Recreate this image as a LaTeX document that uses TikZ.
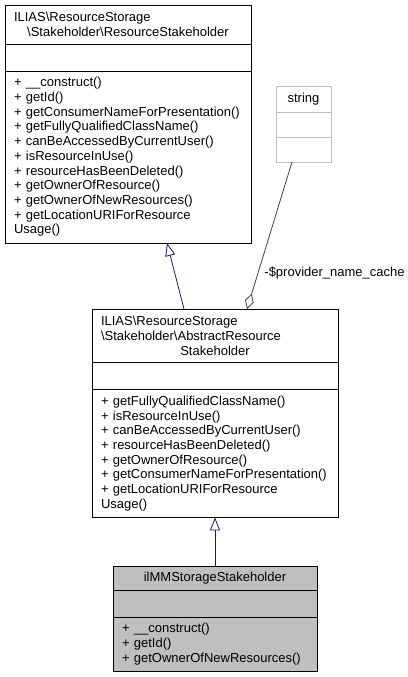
\documentclass[tikz,border=0pt]{standalone}
\usepackage{fontspec}
\setmainfont{Liberation Sans}
\usepackage{xcolor}
\usetikzlibrary{positioning}
\usetikzlibrary{arrows.meta}
\usetikzlibrary{math}

\definecolor{edgeblue}{RGB}{25,25,112}
\definecolor{edgegray}{RGB}{64,64,64}
\definecolor{boxgray}{RGB}{191,191,191}

\newcommand{\midline}[1]{\makebox[\hsize][c]{#1}}

\tikzset{
  compart/.style={draw, line width=0.8pt, inner xsep=9pt, inner ysep=0pt,
    outer sep=0pt, align=left,
    font=\fontsize{13}{14.7}\selectfont},
  widebox/.style={text width=228pt},
  leafbox/.style={text width=186pt},
  inherit/.style={draw=edgeblue, line width=0.8pt,
    -{Triangle[open, length=13pt, width=10pt]}},
  aggr/.style={draw=edgegray, line width=0.8pt,
    -{Diamond[open, length=16pt, width=9pt]}},
  edgelabel/.style={font=\fontsize{13}{14.7}\selectfont, inner sep=0pt},
}

\begin{document}
\begin{tikzpicture}[x=1pt,y=-1pt]

  \tikzmath{
    \emptyh = 27;   % height of the empty attribute compartments
    \lineh  = 14.7; % distance between two text lines
  }

  \useasboundingbox (0,0) rectangle (407,677);

  % interface ResourceStakeholder
  \node[compart, widebox, minimum height=39pt, anchor=north west] (rsHead) at (5,5)
  {ILIAS\textbackslash ResourceStorage\\
   \midline{\textbackslash Stakeholder\textbackslash ResourceStakeholder}};
  \node[compart, widebox, minimum height=\emptyh, below=0pt of rsHead] (rsAttr) {};
  \node[compart, widebox, minimum height=172pt, below=0pt of rsAttr] (rsOps)
  {+ \_\_construct()\\
   + getId()\\
   + getConsumerNameForPresentation()\\
   + getFullyQualifiedClassName()\\
   + canBeAccessedByCurrentUser()\\
   + isResourceInUse()\\
   + resourceHasBeenDeleted()\\
   + getOwnerOfResource()\\
   + getOwnerOfNewResources()\\
   + getLocationURIForResource\\
   Usage()};

  % class string
  \node[compart, draw=boxgray, text width=37pt, align=center, minimum height=26pt,
        anchor=north west] (strHead) at (276,86) {string};
  \node[compart, draw=boxgray, text width=37pt, minimum height=25pt,
        below=0pt of strHead] (strAttr) {};
  \node[compart, draw=boxgray, text width=37pt, minimum height=25pt,
        below=0pt of strAttr] (strOps) {};

  % abstract class AbstractResourceStakeholder
  \node[compart, widebox, minimum height=53.4pt, anchor=north west] (absHead) at (92,309)
  {ILIAS\textbackslash ResourceStorage\\
   \textbackslash Stakeholder\textbackslash AbstractResource\\
   \midline{Stakeholder}};
  \node[compart, widebox, minimum height=\emptyh, below=0pt of absHead] (absAttr) {};
  \node[compart, widebox, minimum height=128pt, below=0pt of absAttr] (absOps)
  {+ getFullyQualifiedClassName()\\
   + isResourceInUse()\\
   + canBeAccessedByCurrentUser()\\
   + resourceHasBeenDeleted()\\
   + getOwnerOfResource()\\
   + getConsumerNameForPresentation()\\
   + getLocationURIForResource\\
   Usage()};

  % class ilMMStorageStakeholder
  \node[compart, leafbox, fill=boxgray, minimum height=24pt, anchor=north west] (imHead) at (113,566)
  {\midline{ilMMStorageStakeholder}};
  \node[compart, leafbox, fill=boxgray, minimum height=\emptyh, below=0pt of imHead] (imAttr) {};
  \node[compart, leafbox, fill=boxgray, minimum height=54.4pt, below=0pt of imAttr] (imOps)
  {+ \_\_construct()\\
   + getId()\\
   + getOwnerOfNewResources()};

  % inheritance
  \draw[inherit] ([xshift=-31pt]absHead.north) -- ([xshift=39pt]rsOps.south);
  \draw[inherit] (imHead.north) -- (absOps.south);

  % member of type string
  \draw[aggr] ([xshift=-11.5pt]strOps.south) -- ([xshift=32pt]absHead.north)
  node[edgelabel, pos=0.755, anchor=west, xshift=6pt] (cacheLabel) {-\$provider\_name\_cache};

\end{tikzpicture}
\end{document}
